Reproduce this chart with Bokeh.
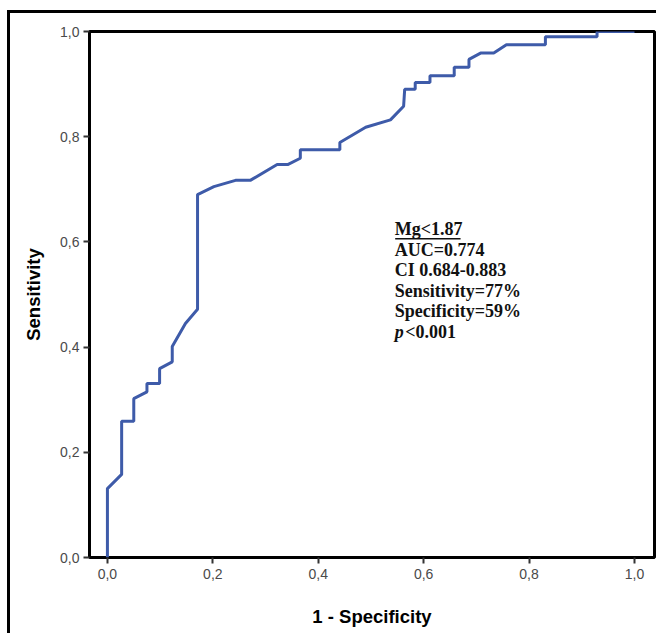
from bokeh.plotting import figure
from bokeh.models import FixedTicker, Label, Range1d
from bokeh.embed import file_html
from bokeh.resources import INLINE

# ROC curve (1 - specificity, sensitivity)
fpr = [0.0, 0.0, 0.027, 0.027, 0.050, 0.050, 0.075, 0.075, 0.099, 0.099, 0.123, 0.123,
       0.148, 0.171, 0.171, 0.202, 0.243, 0.271, 0.322, 0.342, 0.366, 0.366, 0.441, 0.441,
       0.490, 0.537, 0.562, 0.564, 0.584, 0.584, 0.612, 0.612, 0.658, 0.658, 0.686, 0.686,
       0.708, 0.733, 0.757, 0.831, 0.831, 0.929, 0.929, 1.0]
tpr = [0.0, 0.131, 0.158, 0.259, 0.259, 0.302, 0.315, 0.331, 0.331, 0.359, 0.372, 0.401,
       0.445, 0.472, 0.690, 0.705, 0.717, 0.717, 0.747, 0.747, 0.759, 0.775, 0.775, 0.789,
       0.818, 0.832, 0.858, 0.890, 0.890, 0.903, 0.903, 0.916, 0.916, 0.932, 0.932, 0.947,
       0.959, 0.959, 0.975, 0.975, 0.990, 0.990, 1.0, 1.0]

ticks = [0.0, 0.2, 0.4, 0.6, 0.8, 1.0]
tick_labels = ["0,0", "0,2", "0,4", "0,6", "0,8", "1,0"]

stats_title = "Mg<1.87"
stats_lines = ["AUC=0.774", "CI 0.684-0.883", "Sensitivity=77%", "Specificity=59%"]
p_label = "p"
p_value = "<0.001"

W, H = 649, 623
p = figure(width=W, height=H, output_backend="svg", toolbar_location=None,
           x_range=Range1d(-0.034, 1.038), y_range=Range1d(0.0, 1.0),
           min_border_left=79, min_border_right=5, min_border_top=18, min_border_bottom=79,
           x_axis_label="1 - Specificity", y_axis_label="Sensitivity")
p.styles = {"margin-left": "7px", "margin-top": "10px",
            "border-left": "3px solid black", "border-top": "3px solid black"}

p.background_fill_color = "white"
p.border_fill_color = "white"
p.grid.visible = False
p.outline_line_color = "black"
p.outline_line_width = 3

for ax in (p.xaxis[0], p.yaxis[0]):
    ax.ticker = FixedTicker(ticks=ticks)
    ax.major_label_overrides = {t: l for t, l in zip(ticks, tick_labels)}
    ax.axis_line_color = None
    ax.minor_tick_line_color = None
    ax.major_tick_in = 0
    ax.major_tick_out = 6
    ax.major_tick_line_color = "#333333"
    ax.major_tick_line_width = 2
    ax.major_label_text_font = "Liberation Sans"
    ax.major_label_text_font_size = "14px"
    ax.major_label_text_color = "#4a4a4a"
    ax.axis_label_text_font = "Liberation Sans"
    ax.axis_label_text_font_style = "bold"
    ax.axis_label_text_font_size = "18.5px"
    ax.axis_label_text_color = "black"

p.xaxis[0].major_label_standoff = 5
p.xaxis[0].axis_label_standoff = 24
p.yaxis[0].major_label_standoff = 4
p.yaxis[0].axis_label_standoff = 13

p.line(fpr, tpr, line_color="#3e5ba9", line_width=3)

# annotation text block
x0 = 0.545
base = 0.624
step = 0.039
fs = "18px"
p.add_layout(Label(x=x0, y=base, text=stats_title, text_font="Liberation Serif",
                   text_font_style="bold", text_font_size=fs, text_color="#111111",
                   text_baseline="alphabetic"))
p.line([x0 + 0.001, x0 + 0.125], [0.606, 0.606], line_color="#111111", line_width=1.5)
for i, s in enumerate(stats_lines):
    p.add_layout(Label(x=x0, y=base - step * (i + 1), text=s, text_font="Liberation Serif",
                       text_font_style="bold", text_font_size=fs, text_color="#111111",
                       text_baseline="alphabetic"))
yp = base - step * (len(stats_lines) + 1)
p.add_layout(Label(x=x0, y=yp, text=p_label, text_font="Liberation Serif",
                   text_font_style="bold italic", text_font_size=fs, text_color="#111111",
                   text_baseline="alphabetic"))
p.add_layout(Label(x=x0 + 0.02, y=yp, text=p_value, text_font="Liberation Serif",
                   text_font_style="bold", text_font_size=fs, text_color="#111111",
                   text_baseline="alphabetic"))

open("out.html", "w").write(file_html(p, INLINE))
